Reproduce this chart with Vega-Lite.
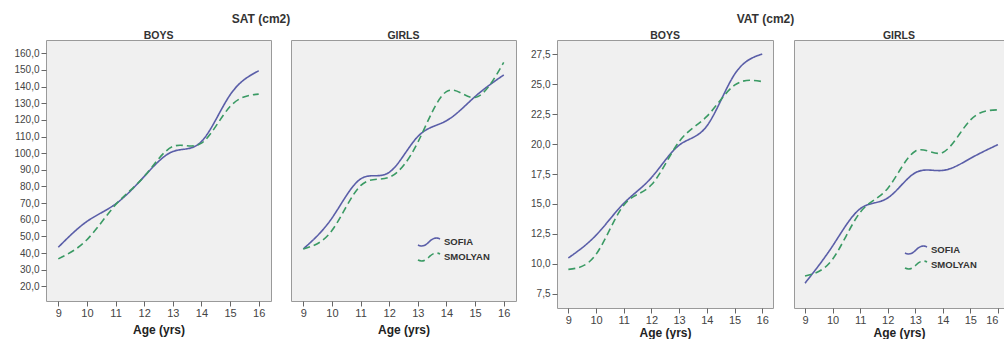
{
  "$schema": "https://vega.github.io/schema/vega-lite/v6.json",
  "padding": {"left": 5, "top": 13, "right": 0, "bottom": 0},
  "background": "white",
  "data": {"values": [
    {"m":"SAT","s":"BOYS","c":"SOFIA","age":9,"v":43.5},
    {"m":"SAT","s":"BOYS","c":"SOFIA","age":10,"v":59},
    {"m":"SAT","s":"BOYS","c":"SOFIA","age":11,"v":69.5},
    {"m":"SAT","s":"BOYS","c":"SOFIA","age":12,"v":86},
    {"m":"SAT","s":"BOYS","c":"SOFIA","age":13,"v":101},
    {"m":"SAT","s":"BOYS","c":"SOFIA","age":14,"v":107},
    {"m":"SAT","s":"BOYS","c":"SOFIA","age":15,"v":135},
    {"m":"SAT","s":"BOYS","c":"SOFIA","age":16,"v":149.5},
    {"m":"SAT","s":"BOYS","c":"SMOLYAN","age":9,"v":36.5},
    {"m":"SAT","s":"BOYS","c":"SMOLYAN","age":10,"v":48},
    {"m":"SAT","s":"BOYS","c":"SMOLYAN","age":11,"v":69},
    {"m":"SAT","s":"BOYS","c":"SMOLYAN","age":12,"v":86},
    {"m":"SAT","s":"BOYS","c":"SMOLYAN","age":13,"v":104},
    {"m":"SAT","s":"BOYS","c":"SMOLYAN","age":14,"v":106},
    {"m":"SAT","s":"BOYS","c":"SMOLYAN","age":15,"v":128},
    {"m":"SAT","s":"BOYS","c":"SMOLYAN","age":16,"v":135.5},
    {"m":"SAT","s":"GIRLS","c":"SOFIA","age":9,"v":42.5},
    {"m":"SAT","s":"GIRLS","c":"SOFIA","age":10,"v":61},
    {"m":"SAT","s":"GIRLS","c":"SOFIA","age":11,"v":84.5},
    {"m":"SAT","s":"GIRLS","c":"SOFIA","age":12,"v":88.5},
    {"m":"SAT","s":"GIRLS","c":"SOFIA","age":13,"v":110},
    {"m":"SAT","s":"GIRLS","c":"SOFIA","age":14,"v":119.5},
    {"m":"SAT","s":"GIRLS","c":"SOFIA","age":15,"v":134},
    {"m":"SAT","s":"GIRLS","c":"SOFIA","age":16,"v":147},
    {"m":"SAT","s":"GIRLS","c":"SMOLYAN","age":9,"v":42.5},
    {"m":"SAT","s":"GIRLS","c":"SMOLYAN","age":10,"v":53.5},
    {"m":"SAT","s":"GIRLS","c":"SMOLYAN","age":11,"v":80.5},
    {"m":"SAT","s":"GIRLS","c":"SMOLYAN","age":12,"v":85.5},
    {"m":"SAT","s":"GIRLS","c":"SMOLYAN","age":13,"v":106.5},
    {"m":"SAT","s":"GIRLS","c":"SMOLYAN","age":14,"v":137},
    {"m":"SAT","s":"GIRLS","c":"SMOLYAN","age":15,"v":133.5},
    {"m":"SAT","s":"GIRLS","c":"SMOLYAN","age":16,"v":154.5},
    {"m":"VAT","s":"BOYS","c":"SOFIA","age":9,"v":10.5},
    {"m":"VAT","s":"BOYS","c":"SOFIA","age":10,"v":12.4},
    {"m":"VAT","s":"BOYS","c":"SOFIA","age":11,"v":15.05},
    {"m":"VAT","s":"BOYS","c":"SOFIA","age":12,"v":17.2},
    {"m":"VAT","s":"BOYS","c":"SOFIA","age":13,"v":19.9},
    {"m":"VAT","s":"BOYS","c":"SOFIA","age":14,"v":21.5},
    {"m":"VAT","s":"BOYS","c":"SOFIA","age":15,"v":25.8},
    {"m":"VAT","s":"BOYS","c":"SOFIA","age":16,"v":27.5},
    {"m":"VAT","s":"BOYS","c":"SMOLYAN","age":9,"v":9.55},
    {"m":"VAT","s":"BOYS","c":"SMOLYAN","age":10,"v":10.8},
    {"m":"VAT","s":"BOYS","c":"SMOLYAN","age":11,"v":14.9},
    {"m":"VAT","s":"BOYS","c":"SMOLYAN","age":12,"v":16.6},
    {"m":"VAT","s":"BOYS","c":"SMOLYAN","age":13,"v":20.2},
    {"m":"VAT","s":"BOYS","c":"SMOLYAN","age":14,"v":22.3},
    {"m":"VAT","s":"BOYS","c":"SMOLYAN","age":15,"v":24.9},
    {"m":"VAT","s":"BOYS","c":"SMOLYAN","age":16,"v":25.2},
    {"m":"VAT","s":"GIRLS","c":"SOFIA","age":9,"v":8.4},
    {"m":"VAT","s":"GIRLS","c":"SOFIA","age":10,"v":11.5},
    {"m":"VAT","s":"GIRLS","c":"SOFIA","age":11,"v":14.6},
    {"m":"VAT","s":"GIRLS","c":"SOFIA","age":12,"v":15.5},
    {"m":"VAT","s":"GIRLS","c":"SOFIA","age":13,"v":17.6},
    {"m":"VAT","s":"GIRLS","c":"SOFIA","age":14,"v":17.8},
    {"m":"VAT","s":"GIRLS","c":"SOFIA","age":15,"v":18.8},
    {"m":"VAT","s":"GIRLS","c":"SOFIA","age":16,"v":19.95},
    {"m":"VAT","s":"GIRLS","c":"SMOLYAN","age":9,"v":9.0},
    {"m":"VAT","s":"GIRLS","c":"SMOLYAN","age":10,"v":10.4},
    {"m":"VAT","s":"GIRLS","c":"SMOLYAN","age":11,"v":14.3},
    {"m":"VAT","s":"GIRLS","c":"SMOLYAN","age":12,"v":16.3},
    {"m":"VAT","s":"GIRLS","c":"SMOLYAN","age":13,"v":19.4},
    {"m":"VAT","s":"GIRLS","c":"SMOLYAN","age":14,"v":19.3},
    {"m":"VAT","s":"GIRLS","c":"SMOLYAN","age":15,"v":22.0},
    {"m":"VAT","s":"GIRLS","c":"SMOLYAN","age":16,"v":22.85}
  ]},
  "config": {
    "font": "Liberation Sans",
    "view": {"fill": "#f0f0f0", "stroke": "#9a9a9a", "strokeWidth": 1},
    "axis": {"domain": false, "grid": false, "tickColor": "#666", "tickSize": 5, "labelFont": "Liberation Sans", "labelColor": "#444", "labelFontSize": 11, "labelPadding": 1, "titleFont": "Liberation Sans", "titleFontSize": 12, "titleFontWeight": "bold", "titleColor": "#222", "titlePadding": 2},
    "title": {"font": "Liberation Sans", "fontSize": 10.5, "fontWeight": "bold", "color": "#333", "offset": -1},
    "legend": {"labelFont": "Liberation Sans", "labelFontSize": 9.5, "labelFontWeight": "bold", "labelColor": "#333", "symbolType": "M-1.8,0.5C-1,0.9,-0.4,0.4,0,0C0.4,-0.4,1,-0.9,1.8,-0.5", "symbolSize": 150, "symbolStrokeWidth": 1.6, "symbolFillColor": "transparent", "rowPadding": -1.5, "labelOffset": 8, "padding": 0}
  },
  "resolve": {"scale": {"x": "independent", "y": "independent", "color": "independent", "strokeDash": "independent"}},
  "spacing": 9,
  "hconcat": [
    {
      "title": {"text": "SAT (cm2)", "anchor": "middle", "fontSize": 12, "offset": 4},
      "spacing": 18,
      "resolve": {"scale": {"x": "independent", "y": "independent", "color": "independent", "strokeDash": "independent"}},
      "hconcat": [
        {
          "width": 225, "height": 261,
          "title": {"text": "BOYS"},
          "transform": [{"filter": "datum.m === 'SAT' && datum.s === 'BOYS'"}],
          "mark": {"type": "line", "interpolate": "natural", "strokeWidth": 1.6},
          "encoding": {
            "x": {"field": "age", "type": "quantitative", "scale": {"domain": [8.57, 16.43], "nice": false, "zero": false}, "axis": {"values": [9,10,11,12,13,14,15,16], "format": "d", "title": "Age (yrs)", "titlePadding": 6}},
            "y": {"field": "v", "type": "quantitative", "scale": {"domain": [11.2, 168], "nice": false, "zero": false}, "axis": {"values": [20,30,40,50,60,70,80,90,100,110,120,130,140,150,160], "labelExpr": "replace(format(datum.value, '.1f'), '.', ',')", "title": null, "minExtent": 40, "labelFontSize": 10, "labelPadding": 2}},
            "color": {"field": "c", "type": "nominal", "scale": {"domain": ["SOFIA", "SMOLYAN"], "range": ["#5a5ea8", "#3a9a64"]}, "legend": null},
            "strokeDash": {"field": "c", "type": "nominal", "scale": {"domain": ["SOFIA", "SMOLYAN"], "range": [[1, 0], [7, 4]]}, "legend": null}
          }
        },
        {
          "width": 225, "height": 261,
          "title": {"text": "GIRLS"},
          "transform": [{"filter": "datum.m === 'SAT' && datum.s === 'GIRLS'"}],
          "mark": {"type": "line", "interpolate": "natural", "strokeWidth": 1.6},
          "encoding": {
            "x": {"field": "age", "type": "quantitative", "scale": {"domain": [8.57, 16.43], "nice": false, "zero": false}, "axis": {"values": [9,10,11,12,13,14,15,16], "format": "d", "title": "Age (yrs)", "titlePadding": 6}},
            "y": {"field": "v", "type": "quantitative", "scale": {"domain": [11.2, 168], "nice": false, "zero": false}, "axis": null},
            "color": {"field": "c", "type": "nominal", "scale": {"domain": ["SOFIA", "SMOLYAN"], "range": ["#5a5ea8", "#3a9a64"]}, "legend": {"title": null, "orient": "none", "legendX": 131, "legendY": 195}},
            "strokeDash": {"field": "c", "type": "nominal", "scale": {"domain": ["SOFIA", "SMOLYAN"], "range": [[1, 0], [7, 4]]}, "legend": {"title": null, "orient": "none", "legendX": 131, "legendY": 195}}
          }
        }
      ]
    },
    {
      "title": {"text": "VAT (cm2)", "anchor": "middle", "fontSize": 12, "offset": 4},
      "spacing": 19,
      "resolve": {"scale": {"x": "independent", "y": "independent", "color": "independent", "strokeDash": "independent"}},
      "hconcat": [
        {
          "width": 216, "height": 268,
          "title": {"text": "BOYS"},
          "transform": [{"filter": "datum.m === 'VAT' && datum.s === 'BOYS'"}],
          "mark": {"type": "line", "interpolate": "natural", "strokeWidth": 1.6},
          "encoding": {
            "x": {"field": "age", "type": "quantitative", "scale": {"domain": [8.59, 16.39], "nice": false, "zero": false}, "axis": {"values": [9,10,11,12,13,14,15,16], "format": "d", "title": "Age (yrs)"}},
            "y": {"field": "v", "type": "quantitative", "scale": {"domain": [6.33, 28.67], "nice": false, "zero": false}, "axis": {"values": [7.5,10,12.5,15,17.5,20,22.5,25,27.5], "labelExpr": "replace(format(datum.value, '.1f'), '.', ',')", "title": null, "minExtent": 30, "labelFontSize": 10, "labelPadding": 2}},
            "color": {"field": "c", "type": "nominal", "scale": {"domain": ["SOFIA", "SMOLYAN"], "range": ["#5a5ea8", "#3a9a64"]}, "legend": null},
            "strokeDash": {"field": "c", "type": "nominal", "scale": {"domain": ["SOFIA", "SMOLYAN"], "range": [[1, 0], [7, 4]]}, "legend": null}
          }
        },
        {
          "width": 210, "height": 268,
          "title": {"text": "GIRLS"},
          "transform": [{"filter": "datum.m === 'VAT' && datum.s === 'GIRLS'"}],
          "mark": {"type": "line", "interpolate": "natural", "strokeWidth": 1.6},
          "encoding": {
            "x": {"field": "age", "type": "quantitative", "scale": {"domain": [8.6, 16.22], "nice": false, "zero": false}, "axis": {"values": [9,10,11,12,13,14,15,16], "format": "d", "title": "Age (yrs)", "labelFlush": 8}},
            "y": {"field": "v", "type": "quantitative", "scale": {"domain": [6.33, 28.67], "nice": false, "zero": false}, "axis": null},
            "color": {"field": "c", "type": "nominal", "scale": {"domain": ["SOFIA", "SMOLYAN"], "range": ["#5a5ea8", "#3a9a64"]}, "legend": {"title": null, "orient": "none", "legendX": 115, "legendY": 203}},
            "strokeDash": {"field": "c", "type": "nominal", "scale": {"domain": ["SOFIA", "SMOLYAN"], "range": [[1, 0], [7, 4]]}, "legend": {"title": null, "orient": "none", "legendX": 115, "legendY": 203}}
          }
        }
      ]
    }
  ]
}
